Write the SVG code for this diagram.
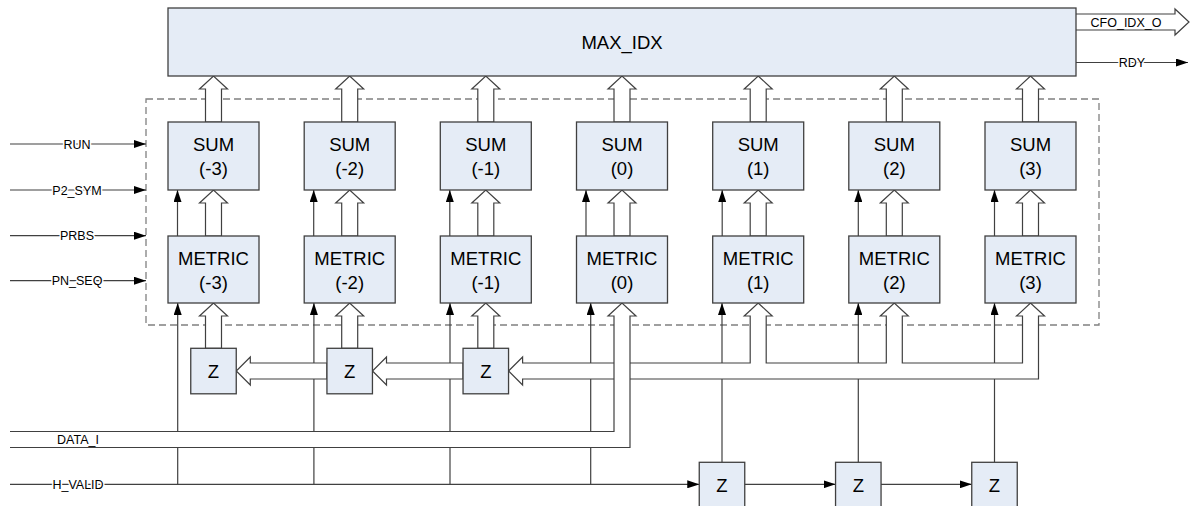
<svg xmlns="http://www.w3.org/2000/svg" width="1190" height="506" viewBox="0 0 1190 506">
<style>
.box{fill:#e5ecf6;stroke:#404040;stroke-width:1.3}
.t{font-family:"Liberation Sans",Arial,sans-serif;font-size:18.5px;text-anchor:middle;fill:#000}
.s{font-family:"Liberation Sans",Arial,sans-serif;font-size:12.5px;text-anchor:middle;fill:#000}
.h{stroke:#fff;stroke-width:3;paint-order:stroke}
.ln{fill:none;stroke:#404040;stroke-width:1.2}
.bus{fill:#fff;stroke:#404040;stroke-width:1.2}
.dash{fill:none;stroke:#808080;stroke-width:1.3;stroke-dasharray:7 4}
</style>
<defs>
<marker id="a" markerWidth="12" markerHeight="8" refX="12" refY="4" orient="auto" markerUnits="userSpaceOnUse"><path d="M0,0 L12,4 L0,8Z" fill="#000"/></marker>
</defs>
<rect id="group-box" class="dash" x="146" y="99" width="953" height="226"/>
<g id="connectors">
<g class="ln" marker-end="url(#a)">
<path d="M10,144H146"/><path d="M10,190H146"/><path d="M10,235.7H146"/><path d="M10,280.7H146"/>
<path d="M1076,62.5H1188"/>
<path d="M10,484.3H699.25"/>
<path d="M177.7,484.3V303"/><path d="M313.9,484.3V303"/><path d="M450,484.3V303"/><path d="M590.7,484.3V303"/>
<path d="M744.75,484.3H835.55"/><path d="M880.8,484.3H971.75"/>
<path d="M722,462.3V303"/><path d="M858.3,462.3V303"/><path d="M994.5,462.3V303"/>
<path d="M177.5,236V190"/><path d="M313.7,236V190"/><path d="M449.8,236V190"/><path d="M586,236V190"/><path d="M722.2,236V190"/><path d="M858.3,236V190"/><path d="M994.5,236V190"/>
</g>
<g class="bus">
<path d="M205.5,122V89H199.5L213.5,76L227.5,89H221.5V122Z"/>
<path d="M341.7,122V89H335.7L349.7,76L363.7,89H357.7V122Z"/>
<path d="M477.8,122V89H471.8L485.8,76L499.8,89H493.8V122Z"/>
<path d="M614,122V89H608L622,76L636,89H630V122Z"/>
<path d="M750.2,122V89H744.2L758.2,76L772.2,89H766.2V122Z"/>
<path d="M886.3,122V89H880.3L894.3,76L908.3,89H902.3V122Z"/>
<path d="M1022.5,122V89H1016.5L1030.5,76L1044.5,89H1038.5V122Z"/>
<path d="M205.5,236V203H199.5L213.5,190L227.5,203H221.5V236Z"/>
<path d="M341.7,236V203H335.7L349.7,190L363.7,203H357.7V236Z"/>
<path d="M477.8,236V203H471.8L485.8,190L499.8,203H493.8V236Z"/>
<path d="M614,236V203H608L622,190L636,203H630V236Z"/>
<path d="M750.2,236V203H744.2L758.2,190L772.2,203H766.2V236Z"/>
<path d="M886.3,236V203H880.3L894.3,190L908.3,203H902.3V236Z"/>
<path d="M1022.5,236V203H1016.5L1030.5,190L1044.5,203H1038.5V236Z"/>
<path d="M205.5,348.3V316H199.5L213.5,303L227.5,316H221.5V348.3Z"/>
<path d="M341.7,348.3V316H335.7L349.7,303L363.7,316H357.7V348.3Z"/>
<path d="M477.8,348.3V316H471.8L485.8,303L499.8,316H493.8V348.3Z"/>
<path d="M326.95,363H250.3V357L236.25,371L250.3,385V379H326.95Z"/>
<path d="M463.05,363H386.5V357L372.45,371L386.5,385V379H463.05Z"/>
<path d="M508.55,371L522.6,357V363H750.2V316H744.2L758.2,303L772.2,316H766.2V363H886.3V316H880.3L894.3,303L908.3,316H902.3V363H1022.5V316H1016.5L1030.5,303L1044.5,316H1038.5V379H522.6V385Z"/>
<path d="M10,431.5H614V316H608L622,303L636,316H630V447.5H10"/>
<path d="M1076,14H1175V9L1189,22L1175,35V30H1076"/>
</g>
</g>
<g id="max_idx"><rect class="box" x="168" y="8" width="908" height="68"/><text class="t" x="622" y="48.5">MAX_IDX</text></g>
<g id="sum_m3"><rect class="box" x="168" y="122" width="91" height="68"/><text class="t" x="213.5" y="150.5">SUM</text><text class="t" x="213.5" y="174.5">(-3)</text></g>
<g id="sum_m2"><rect class="box" x="304.2" y="122" width="91" height="68"/><text class="t" x="349.7" y="150.5">SUM</text><text class="t" x="349.7" y="174.5">(-2)</text></g>
<g id="sum_m1"><rect class="box" x="440.3" y="122" width="91" height="68"/><text class="t" x="485.8" y="150.5">SUM</text><text class="t" x="485.8" y="174.5">(-1)</text></g>
<g id="sum_0"><rect class="box" x="576.5" y="122" width="91" height="68"/><text class="t" x="622" y="150.5">SUM</text><text class="t" x="622" y="174.5">(0)</text></g>
<g id="sum_1"><rect class="box" x="712.7" y="122" width="91" height="68"/><text class="t" x="758.2" y="150.5">SUM</text><text class="t" x="758.2" y="174.5">(1)</text></g>
<g id="sum_2"><rect class="box" x="848.8" y="122" width="91" height="68"/><text class="t" x="894.3" y="150.5">SUM</text><text class="t" x="894.3" y="174.5">(2)</text></g>
<g id="sum_3"><rect class="box" x="985" y="122" width="91" height="68"/><text class="t" x="1030.5" y="150.5">SUM</text><text class="t" x="1030.5" y="174.5">(3)</text></g>
<g id="metric_m3"><rect class="box" x="168" y="236" width="91" height="67"/><text class="t" x="213.5" y="264.5">METRIC</text><text class="t" x="213.5" y="288.5">(-3)</text></g>
<g id="metric_m2"><rect class="box" x="304.2" y="236" width="91" height="67"/><text class="t" x="349.7" y="264.5">METRIC</text><text class="t" x="349.7" y="288.5">(-2)</text></g>
<g id="metric_m1"><rect class="box" x="440.3" y="236" width="91" height="67"/><text class="t" x="485.8" y="264.5">METRIC</text><text class="t" x="485.8" y="288.5">(-1)</text></g>
<g id="metric_0"><rect class="box" x="576.5" y="236" width="91" height="67"/><text class="t" x="622" y="264.5">METRIC</text><text class="t" x="622" y="288.5">(0)</text></g>
<g id="metric_1"><rect class="box" x="712.7" y="236" width="91" height="67"/><text class="t" x="758.2" y="264.5">METRIC</text><text class="t" x="758.2" y="288.5">(1)</text></g>
<g id="metric_2"><rect class="box" x="848.8" y="236" width="91" height="67"/><text class="t" x="894.3" y="264.5">METRIC</text><text class="t" x="894.3" y="288.5">(2)</text></g>
<g id="metric_3"><rect class="box" x="985" y="236" width="91" height="67"/><text class="t" x="1030.5" y="264.5">METRIC</text><text class="t" x="1030.5" y="288.5">(3)</text></g>
<g id="z_m3"><rect class="box" x="190.75" y="348.3" width="45.5" height="45.5"/><text class="t" x="213.5" y="377.5">Z</text></g>
<g id="z_m2"><rect class="box" x="326.95" y="348.3" width="45.5" height="45.5"/><text class="t" x="349.7" y="377.5">Z</text></g>
<g id="z_m1"><rect class="box" x="463.05" y="348.3" width="45.5" height="45.5"/><text class="t" x="485.8" y="377.5">Z</text></g>
<g id="z_h1"><rect class="box" x="699.25" y="462.3" width="45.5" height="45.5"/><text class="t" x="722" y="491.5">Z</text></g>
<g id="z_h2"><rect class="box" x="835.55" y="462.3" width="45.5" height="45.5"/><text class="t" x="858.3" y="491.5">Z</text></g>
<g id="z_h3"><rect class="box" x="971.75" y="462.3" width="45.5" height="45.5"/><text class="t" x="994.5" y="491.5">Z</text></g>
<g id="labels">
<text class="s h" x="77" y="148.5">RUN</text>
<text class="s h" x="77" y="194.5">P2_SYM</text>
<text class="s h" x="77" y="240">PRBS</text>
<text class="s h" x="77" y="285">PN_SEQ</text>
<text class="s" x="78" y="444">DATA_I</text>
<text class="s h" x="78" y="488.5">H_VALID</text>
<text class="s" x="1126" y="27">CFO_IDX_O</text>
<text class="s h" x="1132" y="67">RDY</text>
</g>
</svg>
